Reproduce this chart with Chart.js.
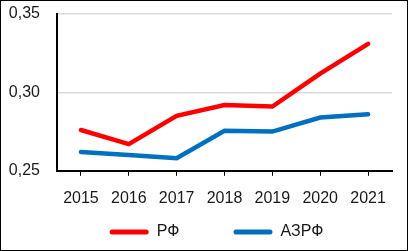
<!DOCTYPE html>
<html>
<head>
<meta charset="utf-8">
<script src="https://cdn.jsdelivr.net/npm/chart.js@4"></script>
<style>
  html, body { margin: 0; padding: 0; background: #fff; }
  #wrap { width: 406px; height: 249px; border: 1px solid #000; position: relative; }
</style>
</head>
<body>
<div id="wrap"><canvas id="grafico"></canvas></div>
<script>
const years = ['2015', '2016', '2017', '2018', '2019', '2020', '2021'];
const rf = [0.276, 0.267, 0.285, 0.292, 0.291, 0.312, 0.331];
const azrf = [0.262, 0.260, 0.258, 0.2755, 0.275, 0.284, 0.286];
const yTicks = [0.25, 0.30, 0.35];

const ctx = document.getElementById('grafico').getContext('2d');
new Chart(ctx, {
    type: 'line',
    data: {
        labels: years,
        datasets: [{
            label: 'РФ',
            data: rf,
            borderColor: '#ff0000',
            backgroundColor: '#ff0000',
            borderWidth: 4.5,
            pointRadius: 0,
            borderCapStyle: 'round',
            tension: 0
        }, {
            label: 'АЗРФ',
            data: azrf,
            borderColor: '#0070c0',
            backgroundColor: '#0070c0',
            borderWidth: 4.5,
            pointRadius: 0,
            borderCapStyle: 'round',
            tension: 0
        }]
    },
    options: {
        responsive: true,
        maintainAspectRatio: false,
        animation: false,
        layout: { padding: { left: 4, right: 15, top: 13, bottom: 0 } },
        plugins: {
            tooltip: { enabled: false },
            legend: {
                position: 'bottom',
                fullSize: false,
                labels: {
                    boxWidth: 39,
                    boxHeight: 5,
                    padding: 3,
                    useBorderRadius: true,
                    borderRadius: 2.5,
                    color: '#1a1a1a',
                    font: { family: 'Liberation Sans', size: 16 },
                    generateLabels: chart => {
                        const items = Chart.defaults.plugins.legend.labels.generateLabels(chart);
                        items.forEach((it, i) => {
                            it.lineWidth = 0;
                            // spacing so the entries sit where the original has them
                            it.text = it.text + (i === 0 ? '\u2003\u2003\u2003\u2009' : '\u2003');
                        });
                        return items;
                    }
                }
            }
        },
        scales: {
            y: {
                min: 0.25,
                max: 0.35,
                afterBuildTicks: s => { s.ticks = yTicks.map(v => ({ value: v })); },
                afterFit: s => { s.width = 52; s.paddingTop = 0; s.paddingBottom = 0; },
                ticks: {
                    color: '#1a1a1a',
                    padding: 17,
                    font: { family: 'Liberation Sans', size: 16 },
                    callback: v => v.toFixed(2).replace('.', ',')
                },
                grid: { color: '#d9d9d9', lineWidth: 1.5, drawTicks: false },
                border: { color: '#000', width: 2 }
            },
            x: {
                offset: true,
                ticks: {
                    color: '#1a1a1a',
                    padding: 13,
                    font: { family: 'Liberation Sans', size: 16 }
                },
                grid: { drawOnChartArea: false, color: '#000', tickLength: 5, lineWidth: 1 },
                border: { color: '#000', width: 2 }
            }
        }
    }
});
</script>
</body>
</html>
